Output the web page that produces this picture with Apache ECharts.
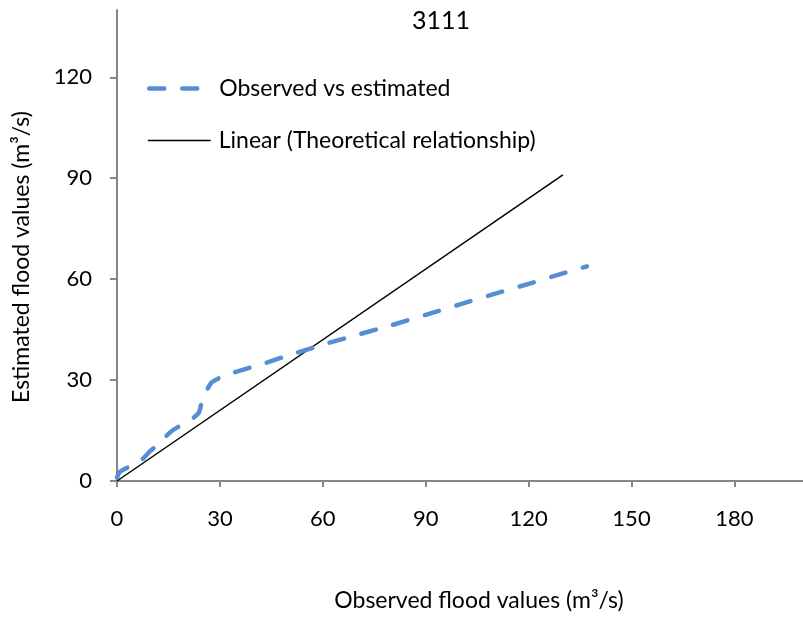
<!DOCTYPE html>
<html>
<head>
<meta charset="utf-8">
<script src="https://cdn.jsdelivr.net/npm/echarts@6/dist/echarts.min.js"></script>
<style>
  html, body { margin: 0; padding: 0; background: #fff; }
  #chart { width: 803px; height: 619px; }
</style>
</head>
<body>
<div id="chart"></div>
<script>
// Observed vs estimated flood peaks (m3/s), station 3111
const obsX = [0, 0.9, 4.7, 7.1, 9.5, 12.4, 15.3, 17.7, 20.2, 23.8, 25, 27.5, 29.8, 33.6, 43, 52, 61.6, 71, 80, 90, 100, 110, 120, 130, 137];
const estY = [1, 2.8, 4.8, 6.2, 8.7, 11.3, 14.3, 16, 17.2, 20.2, 24.6, 29.2, 30.6, 32.1, 35, 38, 41, 43.7, 46.3, 49.4, 52.5, 55.6, 58.6, 61.7, 63.8];

// Theoretical relationship (linear)
const theoX = [0, 130];
const theoY = [0, 91];

// Axis tick values
const xTicks = [0, 30, 60, 90, 120, 150, 180];
const yTicks = [0, 30, 60, 90, 120];

const FONT = 'Lato';
const AXIS_COLOR = '#868686';
const BLUE = '#558ED5';
const BLUE_DASH = [15, 18];

const zip = (a, b) => a.map((v, i) => [v, b[i]]);
const hiddenSymbol = { color: 'rgba(0,0,0,0)', borderColor: 'rgba(0,0,0,0)', borderWidth: 0 };

const chart = echarts.init(document.getElementById('chart'), null, { renderer: 'canvas' });

chart.setOption({
  animation: false,
  backgroundColor: '#ffffff',
  title: {
    text: '3111',
    left: 436,
    top: 3,
    textAlign: 'center',
    textStyle: { fontFamily: FONT, fontSize: 25, fontWeight: 'normal', color: '#000' }
  },
  legend: [
    {
      left: 142,
      top: 72,
      itemWidth: 50,
      itemHeight: 20,
      data: ['Observed vs estimated'],
      itemStyle: hiddenSymbol,
      lineStyle: { color: BLUE, width: 4.5, type: BLUE_DASH, cap: 'round' },
      textStyle: { fontFamily: FONT, fontSize: 23, color: '#000', padding: [0, 0, 0, 15] }
    },
    {
      left: 142,
      top: 124,
      itemWidth: 63,
      itemHeight: 20,
      data: ['Linear (Theoretical relationship)'],
      itemStyle: hiddenSymbol,
      lineStyle: { color: '#000', width: 1.5, type: 'solid' },
      textStyle: { fontFamily: FONT, fontSize: 23, color: '#000', padding: [0, 0, 0, 3] }
    }
  ],
  grid: { left: 117, top: 10, right: -5, bottom: 138, containLabel: false },
  xAxis: {
    type: 'value',
    min: 0,
    max: 200,
    splitLine: { show: false },
    axisLine: { show: true, lineStyle: { color: AXIS_COLOR, width: 2 } },
    axisTick: { show: true, length: 6, customValues: xTicks, lineStyle: { color: AXIS_COLOR, width: 2 } },
    axisLabel: { customValues: xTicks, margin: 27, fontFamily: FONT, fontSize: 22, color: '#000' }
  },
  yAxis: {
    type: 'value',
    min: 0,
    max: 140,
    splitLine: { show: false },
    axisLine: { show: true, lineStyle: { color: AXIS_COLOR, width: 2 } },
    axisTick: { show: true, length: 7, customValues: yTicks, lineStyle: { color: AXIS_COLOR, width: 2 } },
    axisLabel: { customValues: yTicks, margin: 25, fontFamily: FONT, fontSize: 22, color: '#000' }
  },
  graphic: [
    {
      type: 'text',
      x: 479,
      y: 601,
      style: {
        text: 'Observed flood values (m³/s)',
        fontFamily: FONT, fontSize: 23, fill: '#000',
        align: 'center', verticalAlign: 'middle'
      }
    },
    {
      type: 'text',
      x: 22,
      y: 257,
      rotation: Math.PI / 2,
      style: {
        text: 'Estimated flood values (m³/s)',
        fontFamily: FONT, fontSize: 23, fill: '#000',
        align: 'center', verticalAlign: 'middle'
      }
    }
  ],
  series: [
    {
      name: 'Observed vs estimated',
      type: 'line',
      data: zip(obsX, estY),
      symbol: 'none',
      smooth: 0.2,
      lineStyle: { color: BLUE, width: 4.5, type: BLUE_DASH, cap: 'round', join: 'round' },
      itemStyle: { color: BLUE },
      z: 3
    },
    {
      name: 'Linear (Theoretical relationship)',
      type: 'line',
      data: zip(theoX, theoY),
      symbol: 'none',
      lineStyle: { color: '#000000', width: 1.5 },
      itemStyle: { color: '#000000' },
      z: 2
    }
  ]
});
</script>
</body>
</html>
